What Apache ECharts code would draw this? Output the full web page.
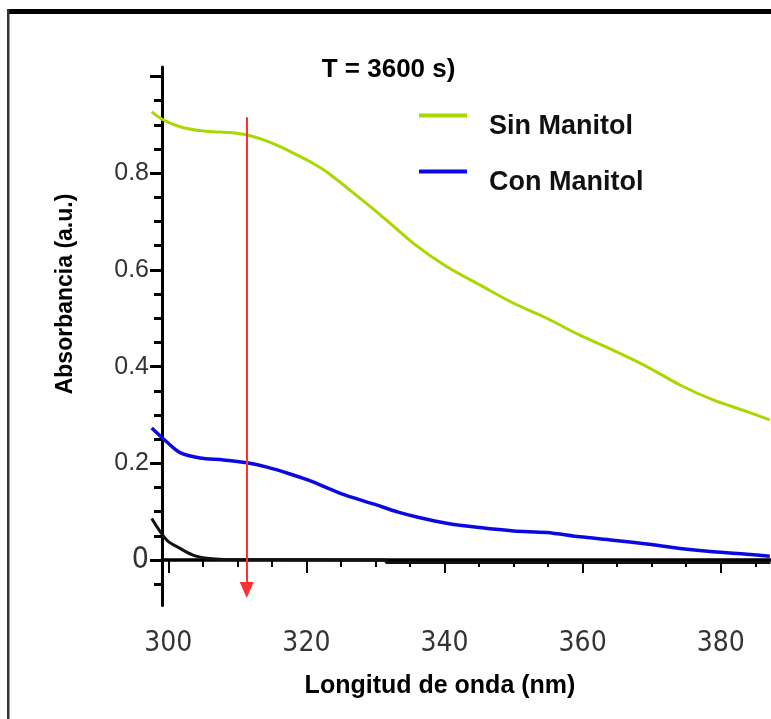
<!DOCTYPE html>
<html>
<head>
<meta charset="utf-8">
<script src="https://cdn.jsdelivr.net/npm/echarts@6/dist/echarts.min.js"></script>
<style>html,body{margin:0;padding:0;background:#fff}#c{width:771px;height:719px}</style>
</head>
<body>
<div id="c"></div>
<script>
// Sin Manitol (green)
const sinX = [297.6, 299.3, 301.7, 304.1, 306.5, 308.9, 311.4, 313.8, 316.2, 318.6, 321.0, 323.2, 326.3, 330.7, 335.5, 340.3, 345.1, 350.0, 354.8, 359.6, 364.4, 369.3, 374.1, 378.9, 383.8, 387.1];
const sinY = [0.927, 0.910, 0.896, 0.889, 0.886, 0.884, 0.879, 0.869, 0.855, 0.838, 0.820, 0.800, 0.765, 0.714, 0.655, 0.607, 0.569, 0.531, 0.500, 0.465, 0.434, 0.400, 0.362, 0.331, 0.307, 0.290];
// Con Manitol (blue)
const conX = [297.6, 299.8, 301.7, 304.6, 308.0, 311.4, 314.3, 317.4, 320.3, 324.9, 329.7, 333.3, 336.0, 340.3, 345.1, 350.0, 354.8, 359.6, 364.4, 369.3, 374.1, 378.9, 383.8, 387.1];
const conY = [0.273, 0.244, 0.222, 0.211, 0.207, 0.201, 0.192, 0.179, 0.165, 0.138, 0.116, 0.099, 0.089, 0.076, 0.067, 0.060, 0.057, 0.048, 0.041, 0.033, 0.024, 0.017, 0.012, 0.008];
// baseline (black)
const baseX = [297.6, 299.8, 301.7, 303.6, 305.6, 308.0, 331.4, 331.6, 387.2];
const baseY = [0.086, 0.041, 0.024, 0.010, 0.0035, 0.001, 0.000, -0.005, -0.005];
// red arrow
const arrowX = 311.35, arrowTop = 0.916, arrowEnd = -0.062;

const xLabelVals = [300, 320, 340, 360, 380];
const xMinorVals = [305, 310, 315, 325, 330, 335, 345, 350, 355, 365, 370, 375, 385];
const yLabelVals = [0, 0.2, 0.4, 0.6, 0.8];
const yMajorTicks = [0, 0.2, 0.4, 0.6, 0.8, 1.0];
const yMinorTicks = [-0.05, 0.05, 0.1, 0.15, 0.25, 0.3, 0.35, 0.45, 0.5, 0.55, 0.65, 0.7, 0.75, 0.85, 0.9, 0.95];

const xMin = 299.09, xMax = 387.28, yMin = -0.0941, yMax = 1.0199;
// data grid reaches a little left of the drawn axis (curves start before the axis line)
const xMinData = 297.5;
const pxPerNm = 6.905;
const dataGridLeft = 162 - (xMin - xMinData) * pxPerNm;
const pair = (xs, ys) => xs.map((x, i) => [x, ys[i]]);

const chart = echarts.init(document.getElementById('c'), null, {renderer: 'canvas'});
const cond = '"DejaVu Sans Condensed", "Liberation Sans Narrow", sans-serif';
const bold = '"Liberation Sans", Arial, sans-serif';
const legendText = {fontSize: 27, fontWeight: 'bold', fontFamily: bold, color: '#111'};
const legendStyle = Object.assign({rich: {t: Object.assign({padding: [22, 0, 0, 17]}, legendText)}}, legendText);

chart.setOption({
  animation: false,
  backgroundColor: '#fff',
  grid: [
    {left: 162, right: 0, top: 66.9, bottom: 113.5, containLabel: false},
    {left: dataGridLeft, right: 0, top: 66.9, bottom: 113.5, containLabel: false}
  ],
  legend: [{
    data: ['Sin Manitol'], orient: 'vertical', left: 414, top: 108,
    icon: 'rect', itemWidth: 48, itemHeight: 4,
    formatter: '{t|{name}}', textStyle: legendStyle
  }, {
    data: ['Con Manitol'], orient: 'vertical', left: 414, top: 164,
    icon: 'rect', itemWidth: 48, itemHeight: 4,
    formatter: '{t|{name}}', textStyle: legendStyle
  }],
  xAxis: [{
    type: 'value', gridIndex: 0, min: xMin, max: xMax,
    axisLine: {show: true, lineStyle: {color: '#000', width: 3.5}},
    axisTick: {show: true, customValues: xLabelVals, length: 13, lineStyle: {color: '#000', width: 2}},
    axisLabel: {customValues: xLabelVals, margin: 24, fontSize: 28, fontFamily: cond, color: '#333'},
    splitLine: {show: false}
  }, {
    type: 'value', gridIndex: 0, min: xMin, max: xMax, position: 'bottom',
    axisLine: {show: false},
    axisTick: {show: true, customValues: xMinorVals, length: 7, lineStyle: {color: '#000', width: 2}},
    axisLabel: {show: false}, splitLine: {show: false}
  }, {
    type: 'value', gridIndex: 1, min: xMinData, max: xMax, show: false
  }],
  yAxis: [{
    type: 'value', gridIndex: 0, min: yMin, max: yMax,
    axisLine: {show: true, lineStyle: {color: '#000', width: 3}},
    axisTick: {show: true, customValues: yMajorTicks, length: 12, lineStyle: {color: '#000', width: 3}},
    axisLabel: {
      customValues: yLabelVals, margin: 13, fontSize: 25, fontFamily: bold, color: '#333',
      formatter: v => Math.abs(v) < 1e-9 ? '{z|0}' : v.toFixed(1),
      rich: {z: {fontSize: 30, fontFamily: cond, color: '#333'}}
    },
    splitLine: {show: false}
  }, {
    type: 'value', gridIndex: 0, min: yMin, max: yMax, position: 'left',
    axisLine: {show: false},
    axisTick: {show: true, customValues: yMinorTicks, length: 8, lineStyle: {color: '#000', width: 3}},
    axisLabel: {show: false}, splitLine: {show: false}
  }, {
    type: 'value', gridIndex: 1, min: yMin, max: yMax, show: false
  }],
  series: [{
    name: 'Sin Manitol', type: 'line', xAxisIndex: 2, yAxisIndex: 2, data: pair(sinX, sinY), clip: false,
    showSymbol: false, smooth: 0.3, color: '#a8d800',
    lineStyle: {color: '#a8d800', width: 3}
  }, {
    name: 'Con Manitol', type: 'line', xAxisIndex: 2, yAxisIndex: 2, data: pair(conX, conY), clip: false,
    showSymbol: false, smooth: 0.3, color: '#0a0ae0',
    lineStyle: {color: '#0a0ae0', width: 3.5}
  }, {
    name: 'Base', type: 'line', xAxisIndex: 2, yAxisIndex: 2, data: pair(baseX, baseY), clip: false,
    showSymbol: false, smooth: 0.3, color: '#111',
    lineStyle: {color: '#111', width: 3},
    markLine: {
      silent: true, animation: false,
      symbol: ['none', 'triangle'], symbolSize: [14, 16],
      label: {show: false},
      lineStyle: {color: '#ff3030', width: 2, type: 'solid'},
      emphasis: {disabled: true},
      data: [[{coord: [arrowX, arrowTop]}, {coord: [arrowX, arrowEnd]}]]
    }
  }],
  graphic: [
    {type: 'rect', shape: {x: 7, y: 9, width: 764, height: 5}, style: {fill: '#000'}, silent: true},
    {type: 'rect', shape: {x: 7, y: 9, width: 2.5, height: 710}, style: {fill: '#333'}, silent: true},
    {type: 'text', left: 321.7, top: 57, style: {text: 'T = 3600 s)', fontSize: 26, fontWeight: 'bold', fontFamily: bold, fill: '#000'}},
    {type: 'text', x: 440, y: 686, style: {text: 'Longitud de onda (nm)', fontSize: 25, fontWeight: 'bold', fontFamily: bold, fill: '#000', align: 'center', verticalAlign: 'middle'}},
    {type: 'text', x: 66, y: 294, rotation: Math.PI / 2, style: {text: 'Absorbancia (a.u.)', fontSize: 23, fontWeight: 'bold', fontFamily: bold, fill: '#000', align: 'center', verticalAlign: 'middle'}}
  ]
});
</script>
</body>
</html>
